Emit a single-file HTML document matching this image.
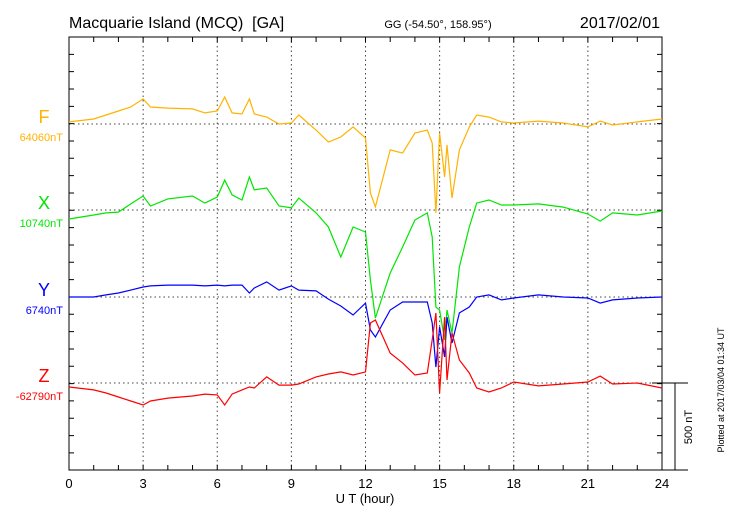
<!DOCTYPE html>
<html><head><meta charset="utf-8"><style>
body{margin:0;background:#fff;font-family:"Liberation Sans",sans-serif}
svg text{font-family:"Liberation Sans",sans-serif}
</style></head><body>
<svg id="chart" width="730" height="520" viewBox="0 0 730 520" xmlns="http://www.w3.org/2000/svg">
<text x="69" y="28" font-size="16">Macquarie Island (MCQ) &#160;[GA]</text>
<text x="438" y="28" font-size="11" text-anchor="middle">GG (-54.50°, 158.95°)</text>
<text x="660" y="28" font-size="16" text-anchor="end">2017/02/01</text>
<g id="grid"></g><g id="axes"></g><g id="series"></g><g id="labels"></g>
<text x="365" y="503" font-size="13" text-anchor="middle">U T (hour)</text>
<text transform="translate(692,427) rotate(-90)" font-size="11" text-anchor="middle">500 nT</text>
<text transform="translate(724,390) rotate(-90)" font-size="9" text-anchor="middle">Plotted at 2017/03/04 01:34 UT</text>
</svg>
<script>
const hours=[0,1,1.5,2,2.5,3,3.3,4,5,5.5,6,6.3,6.6,7,7.3,7.5,8,8.5,9,9.3,10,10.5,11,11.5,12,12.2,12.4,13,13.5,14,14.5,14.7,14.85,15,15.2,15.3,15.5,15.8,16.2,16.5,17,17.5,18,19,20,21,21.5,22,23,24];
const fValues=[12,29,52,75,98,145,98,92,87,64,75,156,64,58,145,58,40,0,6,52,-35,-104,-75,-17,-81,-399,-480,-150,-168,-52,-35,-110,-514,-52,-306,-121,-428,-150,-17,52,40,12,6,17,6,-17,17,-6,12,29];
const xValues=[-52,-29,-17,-12,35,81,23,64,81,40,75,173,87,58,191,116,127,23,12,69,-17,-98,-272,-98,-127,-405,-624,-364,-214,-58,-17,-156,-561,-578,-751,-578,-711,-329,-98,40,58,29,29,35,17,-23,-64,-17,-29,-6];
const yValues=[0,0,12,23,40,58,64,69,69,64,69,64,69,69,23,52,87,40,64,40,35,-12,-52,-104,-35,-191,-231,-75,-29,-29,-29,-150,-405,-173,-347,-116,-266,-92,-58,0,12,-17,-6,12,0,-6,-35,-17,-6,0];
const zValues=[-23,-40,-58,-81,-104,-127,-104,-87,-75,-64,-69,-127,-64,-40,-23,-29,35,-12,-12,-6,35,52,64,46,64,347,364,173,116,46,58,249,405,-58,381,17,289,133,58,-29,-52,-29,6,-17,-6,6,40,-6,0,-29];
const xTickLabels=["0","3","6","9","12","15","18","21","24"];
const seriesNames=["F","X","Y","Z"];
const baseLabels=["64060nT","10740nT","6740nT","-62790nT"];

const L=69,R=662,T=37,B=470,NS="http://www.w3.org/2000/svg";
const xs=h=>L+h*(R-L)/24;
const bases=[124,210,297,383];
const pxPerNT=17.3/100;
const colors=["#ffb300","#00e600","#0000ff","#ff0000"];
function mk(tag,attrs,parent){const e=document.createElementNS(NS,tag);for(const k in attrs)e.setAttribute(k,attrs[k]);document.getElementById(parent).appendChild(e);return e;}
for(let i=1;i<8;i++){const e=mk('line',{x1:xs(i*3),x2:xs(i*3),y1:T,y2:B,stroke:'#444','stroke-dasharray':'1.5,3','stroke-width':1},'grid');

}
bases.forEach((b,i)=>{const e=mk('line',{x1:L,x2:R,y1:b,y2:b,stroke:'#444','stroke-dasharray':'1.5,3','stroke-width':1},'grid');

});
const fr=mk('rect',{x:L,y:T,width:R-L,height:B-T,fill:'none',stroke:'#000','stroke-width':1},'axes');


const ext=mk('path',{d:`M${R},${B}H688M652,383H688M675,383V${B}`,stroke:'#000',fill:'none'},'axes');


let tk='';
for(let h=0;h<=24;h++){const x=xs(h);tk+=`M${x},${T}v5M${x},${B}v-5`;}
for(let y=T+17.33;y<B-1;y+=17.33){tk+=`M${L},${y}h5M${R},${y}h-5`;}
const te=mk('path',{d:tk,stroke:'#000',fill:'none'},'axes');


xTickLabels.forEach((t,i)=>{const e=mk('text',{x:xs(i*3),y:488,'font-size':13,'text-anchor':'middle'},'axes');e.textContent=t;

});
[fValues,xValues,yValues,zValues].forEach((vals,i)=>{
 const d=vals.map((v,j)=>(j?'L':'M')+xs(hours[j]).toFixed(1)+','+(bases[i]-v*pxPerNT).toFixed(1)).join('');
 const p=mk('path',{d:d,stroke:colors[i],fill:'none','stroke-width':1.2},'series');
 
 
 const n=mk('text',{x:44,y:bases[i]-1,'font-size':18,fill:colors[i],'text-anchor':'middle'},'labels');n.textContent=seriesNames[i];
 
 
 const bl=mk('text',{x:63,y:bases[i]+17,'font-size':11,fill:colors[i],'text-anchor':'end'},'labels');bl.textContent=baseLabels[i];
 
 
});
</script>
</body></html>
